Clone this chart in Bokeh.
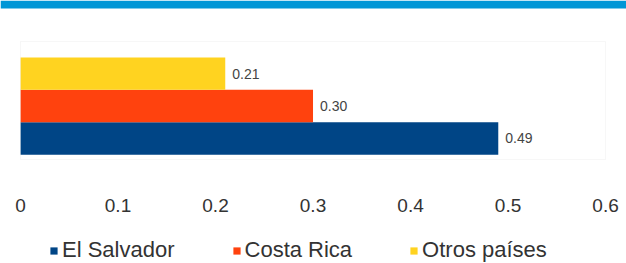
import numpy as np
from bokeh.plotting import figure
from bokeh.models import (Range1d, ColumnDataSource, LabelSet, Legend,
                          LegendItem, BoxAnnotation)
from bokeh.core.properties import value
from bokeh.embed import file_html
from bokeh.resources import INLINE

# ---- data ----
series = ["El Salvador", "Costa Rica", "Otros países"]
values = [0.49, 0.30, 0.21]
value_labels = ["0.49", "0.30", "0.21"]
colors = ["#004586", "#ff420e", "#ffd320"]
ticks = [0, 0.1, 0.2, 0.3, 0.4, 0.5, 0.6]
tick_labels = ["0", "0.1", "0.2", "0.3", "0.4", "0.5", "0.6"]

pos = np.arange(len(series)) + 0.5
src = ColumnDataSource(dict(series=series, value=values, label=value_labels,
                            color=colors, pos=pos))

FONT = "Liberation Sans"
Y_BOTTOM, Y_TOP = -3.360, 4.757   # frame spans the whole canvas
WALL_BOTTOM, WALL_TOP = -0.15, 3.49
TICK_Y = -1.57

p = figure(width=626, height=263, output_backend="svg", toolbar_location=None,
           x_range=Range1d(-0.0205, 0.6215), y_range=Range1d(Y_BOTTOM, Y_TOP),
           min_border=0)
p.outline_line_color = None
p.grid.visible = False
p.axis.visible = False

# blue header strip (cropped title bar)
p.add_layout(BoxAnnotation(bottom=Y_TOP - 8 / 32.4, fill_color="#0096d6",
                           fill_alpha=1.0, line_color=None))
# plot wall outline
p.add_layout(BoxAnnotation(left=0, right=0.6, bottom=WALL_BOTTOM, top=WALL_TOP,
                           fill_alpha=0, line_color="#e6e6e6", line_width=1))

r = p.hbar(y="pos", right="value", left=0, height=1.0, color="color",
           line_color=None, source=src)

labels = LabelSet(x="value", y="pos", text="label", source=src, x_offset=7,
                  text_baseline="middle", text_font=value(FONT),
                  text_font_size=value("14px"), text_color=value("#444444"))
p.add_layout(labels)

# x-axis tick labels
p.text(x=ticks, y=TICK_Y, text=tick_labels, text_align="center",
       text_baseline="middle", text_font=value(FONT), text_font_size="19px",
       text_color="#333333")

legend = Legend(items=[LegendItem(label=s, renderers=[r], index=i)
                       for i, s in enumerate(series)],
                orientation="horizontal", location=(49, 0),
                padding=0, margin=0, spacing=57, label_height=24,
                glyph_width=9, glyph_height=9, label_standoff=4,
                label_text_font=FONT, label_text_font_size="22px",
                label_text_color="#333333",
                border_line_color=None, background_fill_alpha=0)
p.add_layout(legend, "center")

open("out.html", "w").write(file_html(p, INLINE))
